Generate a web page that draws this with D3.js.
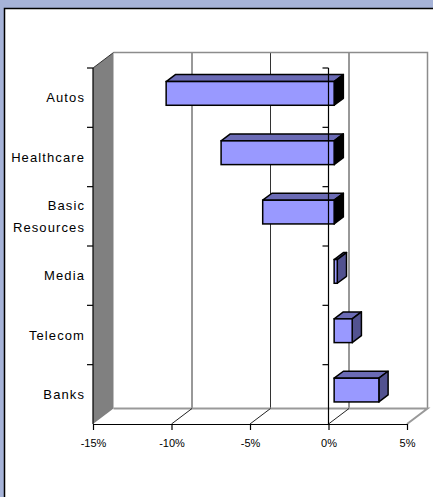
<!DOCTYPE html>
<html>
<head>
<meta charset="utf-8">
<script src="https://cdn.jsdelivr.net/npm/d3@7"></script>
<style>
  body { margin: 0; background: #a6b3d8; }
  svg { display: block; }
  text { font-family: "Liberation Sans", Arial, sans-serif; fill: #000; }
</style>
</head>
<body>
<div class="canvas"></div>
<script>
// data, top to bottom as shown
const categories = ['Autos', 'Healthcare', 'Basic Resources', 'Media', 'Telecom', 'Banks'];
const values = [-10.7, -7.2, -4.55, 0.2, 1.15, 2.85];
const xTicks = [-15, -10, -5, 0, 5];

const width = 433, height = 497;

const svg = d3.select('.canvas')
    .append('svg')
    .attr('width', width)
    .attr('height', height);

// outer frame
svg.append('rect')
    .attr('width', width).attr('height', height)
    .attr('fill', '#a6b3d8');
svg.append('rect')
    .attr('x', 4.5).attr('y', 8.5)
    .attr('width', 460).attr('height', 520)
    .attr('fill', '#fff')
    .attr('stroke', '#000')
    .attr('stroke-width', 1.5);

// front plane + depth offset
const plot = { left: 93, right: 407, top: 68, bottom: 424 };
const DX = 20.5, DY = -15.5;

const x = d3.scaleLinear()
    .domain([-15, 5])
    .range([plot.left, plot.right]);

const y = d3.scaleBand()
    .domain(categories)
    .range([plot.top, plot.bottom])
    .paddingInner(0)
    .paddingOuter(0);

const graph = svg.append('g');

// back wall gridlines
graph.selectAll('line.grid')
    .data(xTicks.slice(1, -1))
    .enter()
    .append('line')
    .attr('class', 'grid')
    .attr('x1', d => x(d) + DX).attr('x2', d => x(d) + DX)
    .attr('y1', plot.top + DY).attr('y2', plot.bottom + DY)
    .attr('stroke', '#333')
    .attr('stroke-width', 1);

// back wall border top + right
graph.append('path')
    .attr('d', `M${plot.left + DX},${plot.top + DY} H${plot.right + DX} V${plot.bottom + DY}`)
    .attr('fill', 'none')
    .attr('stroke', '#8c8c8c')
    .attr('stroke-width', 1.5);

// floor
graph.append('path')
    .attr('d', `M${plot.left + DX},${plot.bottom + DY} H${plot.right + DX} L${plot.right},${plot.bottom}`)
    .attr('fill', 'none')
    .attr('stroke', '#999')
    .attr('stroke-width', 2);

graph.selectAll('line.floor')
    .data(xTicks.slice(1, -1))
    .enter()
    .append('line')
    .attr('class', 'floor')
    .attr('x1', d => x(d)).attr('y1', plot.bottom)
    .attr('x2', d => x(d) + DX).attr('y2', plot.bottom + DY)
    .attr('stroke', '#222')
    .attr('stroke-width', 1);

// side wall (gray)
graph.append('path')
    .attr('d', `M${plot.left},${plot.top} L${plot.left + DX},${plot.top + DY} V${plot.bottom + DY} L${plot.left},${plot.bottom} Z`)
    .attr('fill', '#808080');
graph.append('line')
    .attr('x1', plot.left).attr('y1', plot.top)
    .attr('x2', plot.left + DX).attr('y2', plot.top + DY)
    .attr('stroke', '#333').attr('stroke-width', 1);

// bars (3d)
const t0 = 0.275, t1 = 0.725;
const barH = y.bandwidth() * 0.4;

const bars = graph.selectAll('g.bar')
    .data(categories.map((c, i) => ({ name: c, value: values[i] })))
    .enter()
    .append('g')
    .attr('class', 'bar');

const geo = d => {
    const x0 = x(Math.min(0, d.value)), x1 = x(Math.max(0, d.value));
    const c = y(d.name) + y.bandwidth() / 2;
    return { x0, x1, yt: c - barH / 2, yb: c + barH / 2 };
};

bars.append('path')
    .attr('d', d => {
        const g = geo(d);
        return `M${g.x0 + t0 * DX},${g.yt + t0 * DY} L${g.x1 + t0 * DX},${g.yt + t0 * DY} L${g.x1 + t1 * DX},${g.yt + t1 * DY} L${g.x0 + t1 * DX},${g.yt + t1 * DY} Z`;
    })
    .attr('fill', '#6b6bb5')
    .attr('stroke', '#000')
    .attr('stroke-width', 1.5)
    .attr('stroke-linejoin', 'round');

bars.append('path')
    .attr('d', d => {
        const g = geo(d);
        return `M${g.x1 + t0 * DX},${g.yt + t0 * DY} L${g.x1 + t1 * DX},${g.yt + t1 * DY} L${g.x1 + t1 * DX},${g.yb + t1 * DY} L${g.x1 + t0 * DX},${g.yb + t0 * DY} Z`;
    })
    .attr('fill', d => d.value < 0 ? '#000' : '#525290')
    .attr('stroke', '#000')
    .attr('stroke-width', 1.5)
    .attr('stroke-linejoin', 'round');

bars.append('rect')
    .attr('x', d => geo(d).x0 + t0 * DX)
    .attr('y', d => geo(d).yt + t0 * DY)
    .attr('width', d => geo(d).x1 - geo(d).x0)
    .attr('height', barH)
    .attr('fill', '#9999ff')
    .attr('stroke', '#000')
    .attr('stroke-width', 1.5);

// category axis lines (left edge and at 0%)
const bounds = categories.map(c => y(c)).concat([plot.bottom]);
[plot.left, x(0)].forEach(px => {
    graph.append('line')
        .attr('x1', px).attr('x2', px)
        .attr('y1', plot.top).attr('y2', plot.bottom)
        .attr('stroke', '#000').attr('stroke-width', 1.2);
    graph.selectAll(null)
        .data(bounds.slice(0, -1))
        .enter()
        .append('line')
        .attr('x1', px - 6).attr('x2', px)
        .attr('y1', d => d).attr('y2', d => d)
        .attr('stroke', '#000').attr('stroke-width', 1.2);
});

// x axis
const xAxisGroup = graph.append('g')
    .attr('transform', `translate(0, ${plot.bottom})`);
const xAxis = d3.axisBottom(x)
    .tickValues(xTicks)
    .tickSize(6)
    .tickSizeOuter(0)
    .tickPadding(9)
    .tickFormat(d => d + '%');
xAxisGroup.call(xAxis);
xAxisGroup.select('.domain').attr('stroke', '#000').attr('stroke-width', 1.2);
xAxisGroup.selectAll('.tick line').attr('stroke', '#000').attr('stroke-width', 1.2);
xAxisGroup.selectAll('text')
    .attr('font-size', 11)
    .attr('fill', '#111')
    .attr('font-family', '"Liberation Sans", Arial, sans-serif');

// category labels
const labels = graph.selectAll('text.cat')
    .data(categories)
    .enter()
    .append('text')
    .attr('class', 'cat')
    .attr('text-anchor', 'end')
    .attr('font-size', 13)
    .attr('letter-spacing', 1.1)
    .attr('fill', '#111')
    .attr('x', 85)
    .attr('y', d => y(d) + y.bandwidth() / 2);

labels.each(function (d) {
    const words = d.split(' ');
    const el = d3.select(this);
    const lh = 22;
    words.forEach((w, i) => {
        el.append('tspan')
            .attr('x', 85)
            .attr('dy', i === 0 ? (-(words.length - 1) * lh / 2 + 4.5) : lh)
            .text(w);
    });
});
</script>
</body>
</html>
